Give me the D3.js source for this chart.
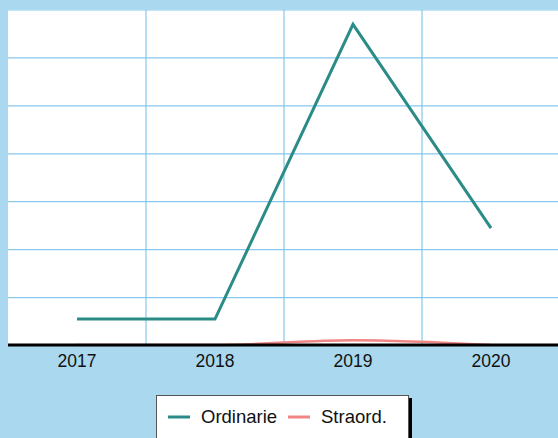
<!DOCTYPE html>
<html>
<head>
<meta charset="utf-8">
<script src="https://cdn.jsdelivr.net/npm/d3@7"></script>
<style>
    html, body { margin: 0; padding: 0; background: #a9d8ef; overflow: hidden; }
    svg { display: block; }
    .grid line { stroke: #86c9ec; stroke-width: 1.2; }
    .grid path { display: none; }
    .x-axis path { stroke: #000; stroke-width: 3; }
    .x-axis text { font-family: "Liberation Sans", Arial, sans-serif; font-size: 17.5px; fill: #111; }
    .legend text { font-family: "Liberation Sans", Arial, sans-serif; font-size: 18.5px; fill: #111; }
</style>
</head>
<body>
<svg id="chart"></svg>
<script>
// data
const years = ['2017', '2018', '2019', '2020'];
const ordinarie = [5.4, 5.4, 66.9, 24.4];
const straord = [0, 0, 1.0, 0];
const yTicks = [0, 10, 20, 30, 40, 50, 60, 70];
const seriesNames = ['Ordinarie', 'Straord.'];
const seriesColors = ['#2b8c87', '#f08585'];

const width = 558, height = 438;
const plot = { left: 8, right: 560, top: 9.5, bottom: 345 };

const svg = d3.select('#chart')
    .attr('width', width)
    .attr('height', height);

const x = d3.scaleBand()
    .domain(years)
    .range([plot.left, plot.right])
    .padding(0);

const y = d3.scaleLinear()
    .domain([0, 70])
    .range([plot.bottom, plot.top]);

// plot background
svg.append('rect')
    .attr('x', plot.left)
    .attr('y', plot.top)
    .attr('width', plot.right - plot.left)
    .attr('height', plot.bottom - plot.top)
    .attr('fill', '#fff');

// horizontal gridlines
svg.append('g')
    .attr('class', 'grid')
    .attr('transform', `translate(${plot.left},0)`)
    .call(d3.axisLeft(y).tickValues(yTicks).tickSize(-(plot.right - plot.left)).tickFormat(''));

// vertical gridlines on band boundaries
svg.append('g')
    .attr('class', 'grid')
    .selectAll('line')
    .data(years.slice(1))
    .enter()
    .append('line')
    .attr('x1', d => x(d))
    .attr('x2', d => x(d))
    .attr('y1', plot.top)
    .attr('y2', plot.bottom);

const cx = d => x(d) + x.bandwidth() / 2;

const straordLine = d3.line()
    .x((d, i) => cx(years[i]))
    .y(d => y(d))
    .curve(d3.curveMonotoneX);

svg.append('path')
    .datum(straord)
    .attr('fill', 'none')
    .attr('stroke', seriesColors[1])
    .attr('stroke-width', 2.5)
    .attr('d', straordLine);

const ordLine = d3.line()
    .x((d, i) => cx(years[i]))
    .y(d => y(d));

svg.append('path')
    .datum(ordinarie)
    .attr('fill', 'none')
    .attr('stroke', seriesColors[0])
    .attr('stroke-width', 3)
    .attr('d', ordLine);

// x axis
const xAxis = svg.append('g')
    .attr('class', 'x-axis')
    .attr('transform', `translate(0,${plot.bottom})`)
    .call(d3.axisBottom(x).tickSize(0).tickPadding(10));
xAxis.select('.domain').attr('d', `M${plot.left},0H${plot.right}`);

// legend
const legend = svg.append('g').attr('class', 'legend');
legend.append('rect')
    .attr('x', 159).attr('y', 398)
    .attr('width', 253).attr('height', 60)
    .attr('fill', '#000');
legend.append('rect')
    .attr('x', 156.5).attr('y', 395.5)
    .attr('width', 252).attr('height', 60)
    .attr('fill', '#fff')
    .attr('stroke', '#555')
    .attr('stroke-width', 1);

const legendX = [168, 288];
const items = legend.selectAll('.item')
    .data(seriesNames)
    .enter()
    .append('g')
    .attr('class', 'item')
    .attr('transform', (d, i) => `translate(${legendX[i]},417)`);

items.append('line')
    .attr('x1', 0).attr('x2', 22)
    .attr('stroke', (d, i) => seriesColors[i])
    .attr('stroke-width', 3);

items.append('text')
    .attr('x', 33)
    .attr('y', 6)
    .text(d => d);
</script>
</body>
</html>
